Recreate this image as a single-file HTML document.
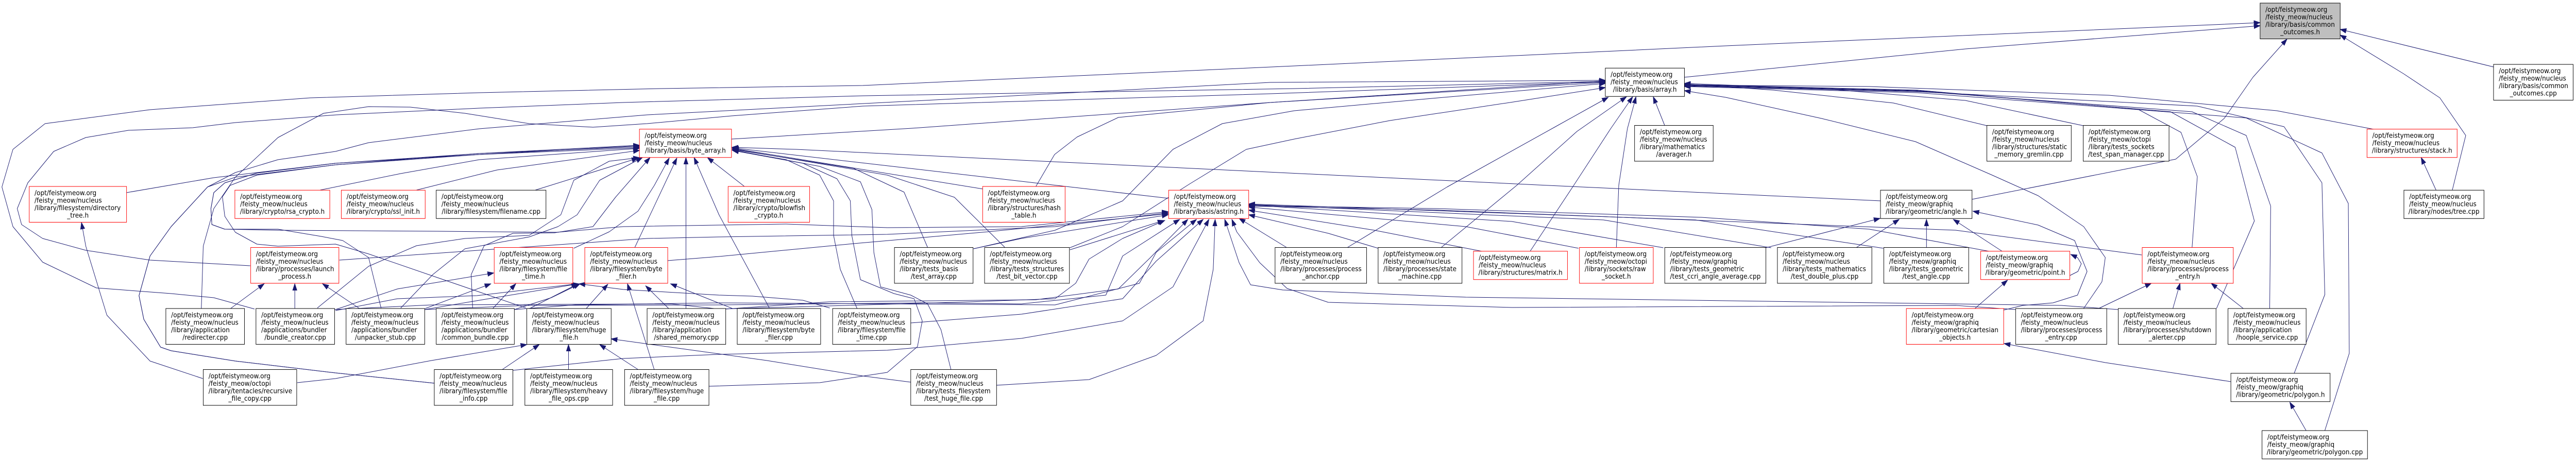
<!DOCTYPE html>
<html><head><meta charset="utf-8"><title>Include dependency graph</title>
<style>
html,body{margin:0;padding:0;background:#fff;width:100%;height:100%;overflow:hidden;}
svg{display:block;width:100vw;height:100vh;background:#fff;}
text{font-family:"DejaVu Sans","Liberation Sans",sans-serif;font-size:13px;fill:#000;}
text.c{text-anchor:middle;}
polyline{fill:none;stroke:#191970;stroke-width:1;stroke-linejoin:round;marker-end:url(#a);}
rect{fill:#fff;stroke:#000;stroke-width:1;}
rect.r{stroke:#ff0000;}
rect.g{fill:#bfbfbf;}
</style></head>
<body>
<svg viewBox="0 0 5374 897" preserveAspectRatio="none" overflow="hidden" xmlns="http://www.w3.org/2000/svg">
<defs>
<marker id="a" markerUnits="userSpaceOnUse" markerWidth="14" markerHeight="10" refX="13" refY="5" orient="auto">
<path d="M0,0.5 L13,5 L0,9.5 Z" fill="#191970" stroke="#191970" stroke-width="1"/>
</marker>
</defs>

<!-- edges to common_outcomes.h -->
<polyline points="3514,150 4100,95 4715,50"/>
<polyline points="531,600 446,578 357,570 201,559 89,509 27,440 4,363 27,290 94,240 313,213 647,190 1000,180 1378,172 1800,166 2700,128 3600,89 4715,44"/>
<polyline points="4114,387 4539,309 4640,230 4700,150 4771,76"/>
<polyline points="5202,130 4882,57"/>
<polyline points="5116,369 5144,263 5090,190 5014,143 4882,68"/>
<polyline points="5082,369 5051,306"/>

<!-- edges to array.h -->
<polyline points="4952,251 4750,215 4400,185 3900,168 3514,165"/>
<polyline points="4145,244 3950,200 3700,175 3514,163"/>
<polyline points="4346,244 4100,195 3800,172 3514,162"/>
<polyline points="4573,481 4584,343 4550,257 4460,212 4000,175 3514,164"/>
<polyline points="4624,599 4703,429 4663,286 4528,217 4000,176 3514,165"/>
<polyline points="4735,599 4737,400 4686,263 4573,217 4000,177 3514,166"/>
<polyline points="4786,725 4850,572 4844,355 4765,246 4584,206 4000,178 3514,167"/>
<polyline points="4850,836 4901,686 4899,395 4844,297 4686,229 4000,180 3514,168"/>
<polyline points="4346,600 4385,547 4392,500 4347,440 4252,380 4156,340 3996,275 3800,230 3600,189 3514,176"/>
<polyline points="2810,481 3019,363 3243,247 3355,189"/>
<polyline points="3006,481 3164,360 3290,255 3393,188"/>
<polyline points="3192,488 3283,360 3360,250 3406,188"/>
<polyline points="3372,481 3377,360 3395,250 3413,188"/>
<polyline points="3473,244 3449,188"/>
<polyline points="2161,362 2200,300 2247,266 2333,228 2650,199 3349,160"/>
<polyline points="2031,483 2201,447 2342,390 2447,290 2550,240 2700,215 3000,190 3349,162"/>
<polyline points="2232,481 2342,440 2482,357 2600,290 2700,270 2900,234 3157,198 3349,170"/>
<polyline points="522,516 313,505 179,486 89,463 45,436 36,405 58,355 112,294 179,267 268,253 402,248 491,238 702,223 1000,210 1300,199 1800,186 2700,172 3349,158"/>
<polyline points="420,600 424,478 446,405 491,344 580,267 675,220 769,207 856,208 970,220 1104,240 1237,247 1350,240 1526,225 1800,206 2650,182 3349,159"/>
<polyline points="1526,270 1903,249 2650,199 3349,157"/>
<polyline points="906,744 700,724 491,701 357,681 335,674 300,620 290,574 313,497 357,440 433,363 491,335 580,310 700,294 769,277 1000,250 1350,223 2650,160 3349,156"/>

<!-- edges to byte_array.h -->
<polyline points="264,374 446,345 700,317 1000,298 1334,282"/>
<polyline points="668,369 836,337 1000,310 1334,288"/>
<polyline points="869,369 1037,330 1334,292"/>
<polyline points="1117,369 1331,307"/>
<polyline points="906,744 700,724 491,701 357,681 335,674 300,620 290,574 313,497 357,440 433,363 491,344 700,320 1000,300 1334,283"/>
<polyline points="662,598 769,517 869,477 970,463 1104,457 1170,417 1197,350 1271,313 1334,306"/>
<polyline points="795,598 769,500 715,467 670,459 580,445 469,445 442,436 440,405 446,374 469,355 536,336 700,317 1000,300 1334,287"/>
<polyline points="836,598 903,533 970,483 1104,460 1164,440 1204,417 1251,350 1340,306"/>
<polyline points="986,598 983,533 1010,477 1070,453 1157,452 1237,440 1284,383 1356,306"/>
<polyline points="1197,482 1271,450 1331,410 1365,360 1396,307"/>
<polyline points="1324,481 1412,307"/>
<polyline points="1431,599 1431,306"/>
<polyline points="1605,598 1500,417 1448,306"/>
<polyline points="1553,362 1476,306"/>
<polyline points="3924,390 3230,360 2600,332 1661,290 1527,286"/>
<polyline points="1478,750 1710,743 1851,723 1914,673 1924,623 1907,580 1865,570 1795,543 1777,457 1774,390 1746,347 1675,317 1528,292"/>
<polyline points="1984,718 1963,640 1935,590 1900,573 1837,557 1823,490 1819,407 1795,353 1710,323 1528,291"/>
<polyline points="1935,480 1886,373 1781,327 1528,290"/>
<polyline points="2096,480 1991,383 1851,340 1528,289"/>
<polyline points="2051,367 1528,288"/>
<polyline points="2437,385 1528,287"/>
<polyline points="1788,599 1753,523 1739,457 1739,390 1710,340 1640,310 1528,292"/>
<polyline points="1097,598 769,493 700,474 580,478 536,474 491,451 469,420 464,382 480,360 536,340 700,320 1000,298 1334,285"/>

<!-- edges to astring.h -->
<polyline points="708,505 1350,463 1500,460 1851,455 2201,440 2437,413"/>
<polyline points="1393,506 1500,498 1781,473 2061,450 2437,415"/>
<polyline points="700,317 536,336 469,355 446,374 440,405 442,436 469,445 580,447 912,449 1161,451 1300,440 1500,437 1640,435 1851,442 2131,440 2437,411"/>
<polyline points="2031,483 2131,463 2437,417"/>
<polyline points="2232,485 2428,428"/>
<polyline points="698,601 900,592 1400,590 1500,600 1991,587 2201,580 2244,550 2272,503 2342,463 2430,428"/>
<polyline points="886,601 1100,593 1500,592 1921,588 2131,590 2307,573 2342,497 2461,426"/>
<polyline points="1073,601 1200,592 1500,588 2201,592 2377,550 2412,490 2496,426"/>
<polyline points="1514,600 1730,586 2161,582 2333,561 2400,500 2478,426"/>
<polyline points="1900,627 2131,610 2342,580 2412,507 2510,426"/>
<polyline points="1070,719 1300,696 1500,688 1851,680 2131,657 2342,623 2447,557 2522,426"/>
<polyline points="2079,748 2272,737 2412,690 2510,623 2531,523 2535,426"/>
<polyline points="2685,481 2585,424"/>
<polyline points="2875,482 2771,453 2605,417"/>
<polyline points="3092,488 2867,447 2605,408"/>
<polyline points="3293,482 3058,440 2605,402"/>
<polyline points="3470,481 3154,430 2605,398"/>
<polyline points="3695,481 3345,427 2605,397"/>
<polyline points="3929,482 3537,427 2605,396"/>
<polyline points="4150,488 3900,445 3550,422 3000,405 2605,399"/>
<polyline points="4468,495 4080,447 3550,428 3000,408 2605,400"/>
<polyline points="4205,601 4080,593 3154,597 2771,587 2685,560 2628,510 2580,450 2570,426"/>
<polyline points="4419,601 4300,593 4080,590 3058,577 2676,563 2609,553 2585,510 2555,426"/>

<!-- graphiq edges -->
<polyline points="3684,481 3922,424"/>
<polyline points="3872,481 3962,426"/>
<polyline points="4019,481 4019,426"/>
<polyline points="4177,488 4075,426"/>
<polyline points="4180,602 4220,593 4283,588 4334,573 4354,527 4328,467 4252,437 4116,410"/>
<polyline points="4120,599 4188,544"/>
<polyline points="4318,535 4335,527 4342,512 4334,500 4320,494"/>
<polyline points="4378,599 4488,550"/>
<polyline points="4533,599 4548,550"/>
<polyline points="4680,599 4613,550"/>
<polyline points="4654,741 4392,704 4181,667"/>
<polyline points="4811,836 4777,781"/>

<!-- lower-left edges -->
<polyline points="481,599 551,551"/>
<polyline points="615,599 615,551"/>
<polyline points="750,599 673,551"/>
<polyline points="700,601 829,561 1030,530"/>
<polyline points="887,599 1024,551"/>
<polyline points="1028,599 1076,551"/>
<polyline points="700,603 829,580 995,574 1205,551"/>
<polyline points="886,601 1000,583 1207,551"/>
<polyline points="1073,601 1150,578 1210,551"/>
<polyline points="1105,599 1206,551"/>
<polyline points="1223,599 1268,552"/>
<polyline points="1731,598 1675,583 1570,575 1500,573 1300,562 1208,551"/>
<polyline points="1528,599 1399,551"/>
<polyline points="1395,599 1347,555"/>
<polyline points="1365,718 1309,551"/>
<polyline points="620,743 700,735 900,700 1099,669"/>
<polyline points="1047,718 1125,669"/>
<polyline points="1186,718 1186,669"/>
<polyline points="1332,718 1251,669"/>
<polyline points="1900,742 1800,730 1600,700 1275,658"/>
<polyline points="423,735 313,701 223,612 179,478 170,432"/>

<!-- nodes -->
<rect class="g" x="4715" y="6" width="167" height="69.5"/>
<text x="4726" y="23">/opt/feistymeow.org</text><text x="4726" y="37.5">/feisty_meow/nucleus</text><text x="4726" y="52">/library/basis/common</text><text class="c" x="4798.5" y="66.5">_outcomes.h</text>

<rect x="5202" y="125" width="166" height="69.5"/>
<text x="5213" y="142">/opt/feistymeow.org</text><text x="5213" y="156.5">/feisty_meow/nucleus</text><text x="5213" y="171">/library/basis/common</text><text class="c" x="5285" y="185.5">_outcomes.cpp</text>

<rect x="3349" y="132.25" width="165" height="55"/>
<text x="3360" y="149.25">/opt/feistymeow.org</text><text x="3360" y="163.75">/feisty_meow/nucleus</text><text class="c" x="3431.5" y="178.25">/library/basis/array.h</text>

<rect class="r" x="1334" y="250.75" width="192" height="55"/>
<text x="1345" y="267.75">/opt/feistymeow.org</text><text x="1345" y="282.25">/feisty_meow/nucleus</text><text class="c" x="1430" y="296.75">/library/basis/byte_array.h</text>

<rect x="3410" y="243.5" width="164" height="69.5"/>
<text x="3421" y="260.5">/opt/feistymeow.org</text><text x="3421" y="275">/feisty_meow/nucleus</text><text x="3421" y="289.5">/library/mathematics</text><text class="c" x="3492" y="304">/averager.h</text>

<rect x="4145" y="243.5" width="176" height="69.5"/>
<text x="4156" y="260.5">/opt/feistymeow.org</text><text x="4156" y="275">/feisty_meow/nucleus</text><text x="4156" y="289.5">/library/structures/static</text><text class="c" x="4233" y="304">_memory_gremlin.cpp</text>

<rect x="4346" y="243.5" width="179" height="69.5"/>
<text x="4357" y="260.5">/opt/feistymeow.org</text><text x="4357" y="275">/feisty_meow/octopi</text><text x="4357" y="289.5">/library/tests_sockets</text><text class="c" x="4435.5" y="304">/test_span_manager.cpp</text>

<rect class="r" x="4938" y="250.75" width="188" height="55"/>
<text x="4949" y="267.75">/opt/feistymeow.org</text><text x="4949" y="282.25">/feisty_meow/nucleus</text><text class="c" x="5032" y="296.75">/library/structures/stack.h</text>

<rect class="r" x="61" y="362" width="203" height="69.5"/>
<text x="72" y="379">/opt/feistymeow.org</text><text x="72" y="393.5">/feisty_meow/nucleus</text><text x="72" y="408">/library/filesystem/directory</text><text class="c" x="162.5" y="422.5">_tree.h</text>

<rect class="r" x="490" y="369.25" width="198" height="55"/>
<text x="501" y="386.25">/opt/feistymeow.org</text><text x="501" y="400.75">/feisty_meow/nucleus</text><text class="c" x="589" y="415.25">/library/crypto/rsa_crypto.h</text>

<rect class="r" x="712" y="369.25" width="175" height="55"/>
<text x="723" y="386.25">/opt/feistymeow.org</text><text x="723" y="400.75">/feisty_meow/nucleus</text><text class="c" x="799.5" y="415.25">/library/crypto/ssl_init.h</text>

<rect x="910" y="369.25" width="229" height="55"/>
<text x="921" y="386.25">/opt/feistymeow.org</text><text x="921" y="400.75">/feisty_meow/nucleus</text><text class="c" x="1024.5" y="415.25">/library/filesystem/filename.cpp</text>

<rect class="r" x="1519" y="362" width="170" height="69.5"/>
<text x="1530" y="379">/opt/feistymeow.org</text><text x="1530" y="393.5">/feisty_meow/nucleus</text><text x="1530" y="408">/library/crypto/blowfish</text><text class="c" x="1604" y="422.5">_crypto.h</text>

<rect class="r" x="2050" y="362" width="172" height="69.5"/>
<text x="2061" y="379">/opt/feistymeow.org</text><text x="2061" y="393.5">/feisty_meow/nucleus</text><text x="2061" y="408">/library/structures/hash</text><text class="c" x="2136" y="422.5">_table.h</text>

<rect class="r" x="2438" y="369.25" width="167" height="55"/>
<text x="2449" y="386.25">/opt/feistymeow.org</text><text x="2449" y="400.75">/feisty_meow/nucleus</text><text class="c" x="2521.5" y="415.25">/library/basis/astring.h</text>

<rect x="3923" y="369.25" width="191" height="55"/>
<text x="3934" y="386.25">/opt/feistymeow.org</text><text x="3934" y="400.75">/feisty_meow/graphiq</text><text class="c" x="4018.5" y="415.25">/library/geometric/angle.h</text>

<rect x="5015" y="369.25" width="167" height="55"/>
<text x="5026" y="386.25">/opt/feistymeow.org</text><text x="5026" y="400.75">/feisty_meow/nucleus</text><text class="c" x="5098.5" y="415.25">/library/nodes/tree.cpp</text>

<rect class="r" x="523" y="480.5" width="184" height="69.5"/>
<text x="534" y="497.5">/opt/feistymeow.org</text><text x="534" y="512">/feisty_meow/nucleus</text><text x="534" y="526.5">/library/processes/launch</text><text class="c" x="615" y="541">_process.h</text>

<rect class="r" x="1031" y="480.5" width="164" height="69.5"/>
<text x="1042" y="497.5">/opt/feistymeow.org</text><text x="1042" y="512">/feisty_meow/nucleus</text><text x="1042" y="526.5">/library/filesystem/file</text><text class="c" x="1113" y="541">_time.h</text>

<rect class="r" x="1220" y="480.5" width="173" height="69.5"/>
<text x="1231" y="497.5">/opt/feistymeow.org</text><text x="1231" y="512">/feisty_meow/nucleus</text><text x="1231" y="526.5">/library/filesystem/byte</text><text class="c" x="1306.5" y="541">_filer.h</text>

<rect x="1866" y="480.5" width="164" height="69.5"/>
<text x="1877" y="497.5">/opt/feistymeow.org</text><text x="1877" y="512">/feisty_meow/nucleus</text><text x="1877" y="526.5">/library/tests_basis</text><text class="c" x="1948" y="541">/test_array.cpp</text>

<rect x="2054" y="480.5" width="177" height="69.5"/>
<text x="2065" y="497.5">/opt/feistymeow.org</text><text x="2065" y="512">/feisty_meow/nucleus</text><text x="2065" y="526.5">/library/tests_structures</text><text class="c" x="2142.5" y="541">/test_bit_vector.cpp</text>

<rect x="2660" y="480.5" width="191" height="69.5"/>
<text x="2671" y="497.5">/opt/feistymeow.org</text><text x="2671" y="512">/feisty_meow/nucleus</text><text x="2671" y="526.5">/library/processes/process</text><text class="c" x="2755.5" y="541">_anchor.cpp</text>

<rect x="2875" y="480.5" width="175" height="69.5"/>
<text x="2886" y="497.5">/opt/feistymeow.org</text><text x="2886" y="512">/feisty_meow/nucleus</text><text x="2886" y="526.5">/library/processes/state</text><text class="c" x="2962.5" y="541">_machine.cpp</text>

<rect class="r" x="3074" y="487.75" width="196" height="55"/>
<text x="3085" y="504.75">/opt/feistymeow.org</text><text x="3085" y="519.25">/feisty_meow/nucleus</text><text class="c" x="3172" y="533.75">/library/structures/matrix.h</text>

<rect class="r" x="3295" y="480.5" width="154" height="69.5"/>
<text x="3306" y="497.5">/opt/feistymeow.org</text><text x="3306" y="512">/feisty_meow/octopi</text><text x="3306" y="526.5">/library/sockets/raw</text><text class="c" x="3372" y="541">_socket.h</text>

<rect x="3473" y="480.5" width="211" height="69.5"/>
<text x="3484" y="497.5">/opt/feistymeow.org</text><text x="3484" y="512">/feisty_meow/graphiq</text><text x="3484" y="526.5">/library/tests_geometric</text><text class="c" x="3578.5" y="541">/test_ccri_angle_average.cpp</text>

<rect x="3708" y="480.5" width="197" height="69.5"/>
<text x="3719" y="497.5">/opt/feistymeow.org</text><text x="3719" y="512">/feisty_meow/nucleus</text><text x="3719" y="526.5">/library/tests_mathematics</text><text class="c" x="3806.5" y="541">/test_double_plus.cpp</text>

<rect x="3930" y="480.5" width="177" height="69.5"/>
<text x="3941" y="497.5">/opt/feistymeow.org</text><text x="3941" y="512">/feisty_meow/graphiq</text><text x="3941" y="526.5">/library/tests_geometric</text><text class="c" x="4018.5" y="541">/test_angle.cpp</text>

<rect class="r" x="4132" y="487.75" width="186" height="55"/>
<text x="4143" y="504.75">/opt/feistymeow.org</text><text x="4143" y="519.25">/feisty_meow/graphiq</text><text class="c" x="4225" y="533.75">/library/geometric/point.h</text>

<rect class="r" x="4469" y="480.5" width="190" height="69.5"/>
<text x="4480" y="497.5">/opt/feistymeow.org</text><text x="4480" y="512">/feisty_meow/nucleus</text><text x="4480" y="526.5">/library/processes/process</text><text class="c" x="4564" y="541">_entry.h</text>

<rect x="346" y="599" width="164" height="69.5"/>
<text x="357" y="616">/opt/feistymeow.org</text><text x="357" y="630.5">/feisty_meow/nucleus</text><text x="357" y="645">/library/application</text><text class="c" x="428" y="659.5">/redirecter.cpp</text>

<rect x="534" y="599" width="164" height="69.5"/>
<text x="545" y="616">/opt/feistymeow.org</text><text x="545" y="630.5">/feisty_meow/nucleus</text><text x="545" y="645">/applications/bundler</text><text class="c" x="616" y="659.5">/bundle_creator.cpp</text>

<rect x="722" y="599" width="164" height="69.5"/>
<text x="733" y="616">/opt/feistymeow.org</text><text x="733" y="630.5">/feisty_meow/nucleus</text><text x="733" y="645">/applications/bundler</text><text class="c" x="804" y="659.5">/unpacker_stub.cpp</text>

<rect x="910" y="599" width="163" height="69.5"/>
<text x="921" y="616">/opt/feistymeow.org</text><text x="921" y="630.5">/feisty_meow/nucleus</text><text x="921" y="645">/applications/bundler</text><text class="c" x="991.5" y="659.5">/common_bundle.cpp</text>

<rect x="1099" y="599" width="176" height="69.5"/>
<text x="1110" y="616">/opt/feistymeow.org</text><text x="1110" y="630.5">/feisty_meow/nucleus</text><text x="1110" y="645">/library/filesystem/huge</text><text class="c" x="1187" y="659.5">_file.h</text>

<rect x="1350" y="599" width="164" height="69.5"/>
<text x="1361" y="616">/opt/feistymeow.org</text><text x="1361" y="630.5">/feisty_meow/nucleus</text><text x="1361" y="645">/library/application</text><text class="c" x="1432" y="659.5">/shared_memory.cpp</text>

<rect x="1538" y="599" width="174" height="69.5"/>
<text x="1549" y="616">/opt/feistymeow.org</text><text x="1549" y="630.5">/feisty_meow/nucleus</text><text x="1549" y="645">/library/filesystem/byte</text><text class="c" x="1625" y="659.5">_filer.cpp</text>

<rect x="1737" y="599" width="163" height="69.5"/>
<text x="1748" y="616">/opt/feistymeow.org</text><text x="1748" y="630.5">/feisty_meow/nucleus</text><text x="1748" y="645">/library/filesystem/file</text><text class="c" x="1818.5" y="659.5">_time.cpp</text>

<rect class="r" x="3977" y="599" width="203" height="69.5"/>
<text x="3988" y="616">/opt/feistymeow.org</text><text x="3988" y="630.5">/feisty_meow/graphiq</text><text x="3988" y="645">/library/geometric/cartesian</text><text class="c" x="4078.5" y="659.5">_objects.h</text>

<rect x="4205" y="599" width="190" height="69.5"/>
<text x="4216" y="616">/opt/feistymeow.org</text><text x="4216" y="630.5">/feisty_meow/nucleus</text><text x="4216" y="645">/library/processes/process</text><text class="c" x="4300" y="659.5">_entry.cpp</text>

<rect x="4419" y="599" width="204" height="69.5"/>
<text x="4430" y="616">/opt/feistymeow.org</text><text x="4430" y="630.5">/feisty_meow/nucleus</text><text x="4430" y="645">/library/processes/shutdown</text><text class="c" x="4521" y="659.5">_alerter.cpp</text>

<rect x="4648" y="599" width="163" height="69.5"/>
<text x="4659" y="616">/opt/feistymeow.org</text><text x="4659" y="630.5">/feisty_meow/nucleus</text><text x="4659" y="645">/library/application</text><text class="c" x="4729.5" y="659.5">/hoople_service.cpp</text>

<rect x="424" y="717.5" width="195" height="69.5"/>
<text x="435" y="734.5">/opt/feistymeow.org</text><text x="435" y="749">/feisty_meow/octopi</text><text x="435" y="763.5">/library/tentacles/recursive</text><text class="c" x="521.5" y="778">_file_copy.cpp</text>

<rect x="906" y="717.5" width="164" height="69.5"/>
<text x="917" y="734.5">/opt/feistymeow.org</text><text x="917" y="749">/feisty_meow/nucleus</text><text x="917" y="763.5">/library/filesystem/file</text><text class="c" x="988" y="778">_info.cpp</text>

<rect x="1095" y="717.5" width="183" height="69.5"/>
<text x="1106" y="734.5">/opt/feistymeow.org</text><text x="1106" y="749">/feisty_meow/nucleus</text><text x="1106" y="763.5">/library/filesystem/heavy</text><text class="c" x="1186.5" y="778">_file_ops.cpp</text>

<rect x="1303" y="717.5" width="176" height="69.5"/>
<text x="1314" y="734.5">/opt/feistymeow.org</text><text x="1314" y="749">/feisty_meow/nucleus</text><text x="1314" y="763.5">/library/filesystem/huge</text><text class="c" x="1391" y="778">_file.cpp</text>

<rect x="1900" y="717.5" width="179" height="69.5"/>
<text x="1911" y="734.5">/opt/feistymeow.org</text><text x="1911" y="749">/feisty_meow/nucleus</text><text x="1911" y="763.5">/library/tests_filesystem</text><text class="c" x="1989.5" y="778">/test_huge_file.cpp</text>

<rect x="4654" y="724.75" width="207" height="55"/>
<text x="4665" y="741.75">/opt/feistymeow.org</text><text x="4665" y="756.25">/feisty_meow/graphiq</text><text class="c" x="4757.5" y="770.75">/library/geometric/polygon.h</text>

<rect x="4719" y="836" width="220" height="55"/>
<text x="4730" y="853">/opt/feistymeow.org</text><text x="4730" y="867.5">/feisty_meow/graphiq</text><text class="c" x="4829" y="882">/library/geometric/polygon.cpp</text>
</svg>
</body></html>
